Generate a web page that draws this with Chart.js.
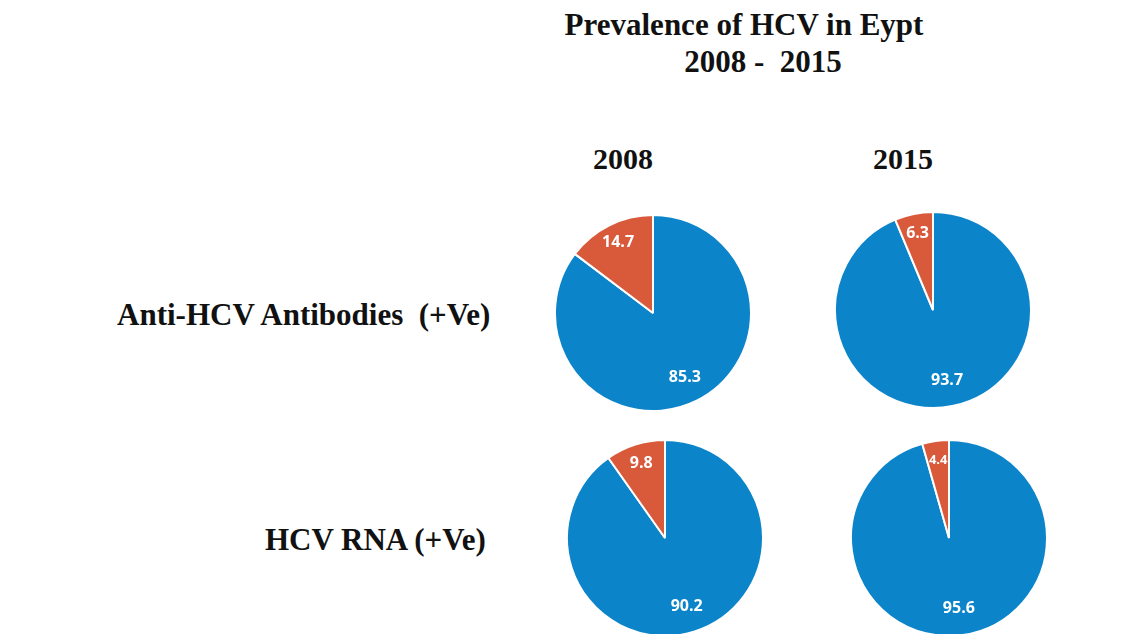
<!DOCTYPE html>
<html>
<head>
<meta charset="utf-8">
<script src="https://cdn.jsdelivr.net/npm/chart.js@4"></script>
<style>
  html, body { margin: 0; padding: 0; background: #fff; }
  body { width: 1145px; height: 634px; overflow: hidden; position: relative; }
  .txt { position: absolute; font-family: "Liberation Serif", "Times New Roman", serif; font-weight: bold;
         font-size: 31px; line-height: 31px; color: #111; white-space: pre; }
  .pie { position: absolute; width: 198px; height: 198px; }
</style>
</head>
<body>
<div class="txt" id="title1" style="left:744px; top:9px; transform:translateX(-50%);"></div>
<div class="txt" id="title2" style="left:763px; top:46px; transform:translateX(-50%);"></div>
<div class="txt" id="year0" style="left:593px; top:143px; font-size:30px;"></div>
<div class="txt" id="year1" style="left:873px; top:143px; font-size:30px;"></div>
<div class="txt" id="row0" style="left:117px; top:299px;"></div>
<div class="txt" id="row1" style="left:265px; top:524px;"></div>

<div class="pie" style="left:554px; top:214px;"><canvas id="pie00"></canvas></div>
<div class="pie" style="left:834px; top:211px;"><canvas id="pie01"></canvas></div>
<div class="pie" style="left:566px; top:439px;"><canvas id="pie10"></canvas></div>
<div class="pie" style="left:850px; top:439px;"><canvas id="pie11"></canvas></div>

<script>
const titleLines = ['Prevalence of HCV in Eypt', '2008 -  2015'];
const years = ['2008', '2015'];
const markers = ['Anti-HCV Antibodies  (+Ve)', 'HCV RNA (+Ve)'];
const sliceNames = ['Negative', 'Positive'];

// [negative, positive] per year
const antiHcv2008 = [85.3, 14.7];
const antiHcv2015 = [93.7, 6.3];
const rna2008 = [90.2, 9.8];
const rna2015 = [95.6, 4.4];

const colors = ['#0b84c9', '#d95a3b'];

document.getElementById('title1').textContent = titleLines[0];
document.getElementById('title2').textContent = titleLines[1];
years.forEach((y, i) => document.getElementById('year' + i).textContent = y);
markers.forEach((m, i) => document.getElementById('row' + i).textContent = m);

// white value labels inside the slices
const valueLabels = {
  id: 'valueLabels',
  afterDatasetsDraw(chart) {
    const ctx = chart.ctx;
    const meta = chart.getDatasetMeta(0);
    const data = chart.data.datasets[0].data;
    ctx.save();
    ctx.fillStyle = '#fff';
    ctx.textAlign = 'center';
    ctx.textBaseline = 'middle';
    meta.data.forEach((arc, i) => {
      const p = arc.getProps(['x', 'y', 'startAngle', 'endAngle', 'outerRadius'], true);
      const mid = (p.startAngle + p.endAngle) / 2;
      const r = p.outerRadius * (data[i] < 50 ? 0.8 : 0.73);
      ctx.font = 'bold ' + (data[i] < 5 ? 13 : 16) + 'px "Open Sans", sans-serif';
      ctx.fillText(data[i].toFixed(1), p.x + Math.cos(mid) * r, p.y + Math.sin(mid) * r);
    });
    ctx.restore();
  }
};

function makePie(id, values) {
  new Chart(document.getElementById(id), {
    type: 'pie',
    data: {
      labels: sliceNames,
      datasets: [{
        data: values,
        backgroundColor: colors,
        borderColor: '#fff',
        borderWidth: 2
      }]
    },
    options: {
      responsive: true,
      maintainAspectRatio: false,
      animation: false,
      layout: { padding: 0 },
      plugins: { legend: { display: false }, tooltip: { enabled: false } }
    },
    plugins: [valueLabels]
  });
}

makePie('pie00', antiHcv2008);
makePie('pie01', antiHcv2015);
makePie('pie10', rna2008);
makePie('pie11', rna2015);
</script>
</body>
</html>
